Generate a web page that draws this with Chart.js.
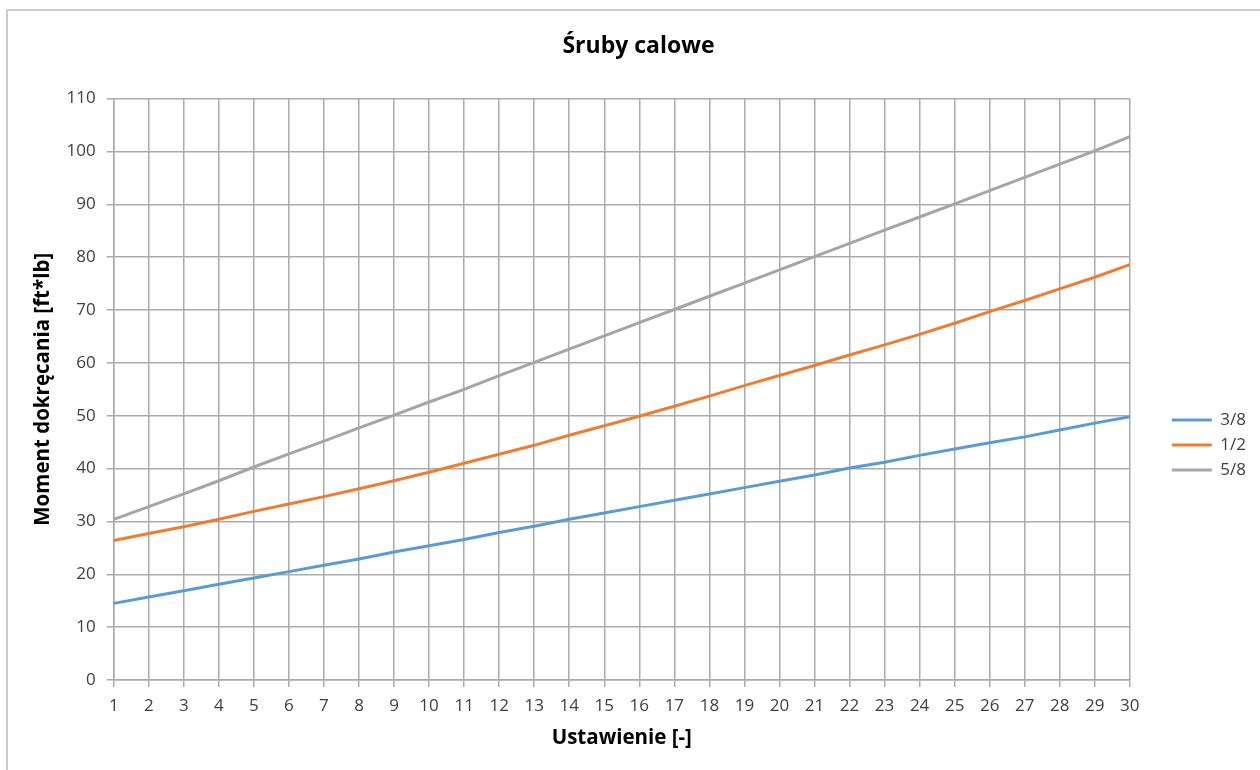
<!DOCTYPE html>
<html>
<head>
<meta charset="utf-8">
<script src="https://cdn.jsdelivr.net/npm/chart.js@4/dist/chart.umd.min.js"></script>
<style>
  html, body { margin: 0; padding: 0; background: #ffffff; overflow: hidden; }
  #frame { position: absolute; left: 6px; top: 9px; width: 1300px; height: 800px; border: 2px solid #cccccc; box-sizing: border-box; }
  #wrap { position: absolute; left: 0; top: 0; width: 1260px; height: 770px; }
</style>
</head>
<body>
<div id="frame"></div>
<div id="wrap"><canvas id="chart" width="1260" height="770"></canvas></div>
<script>
// Settings 1..30 on the wrench
const settings = Array.from({length: 30}, (_, i) => String(i + 1));

// Tightening torque [ft*lb] per bolt size
const torque38 = [14.5, 15.7, 16.9, 18.1, 19.3, 20.5, 21.7, 22.9, 24.2, 25.4,
                  26.6, 27.9, 29.1, 30.4, 31.6, 32.8, 34.0, 35.2, 36.4, 37.6,
                  38.8, 40.1, 41.2, 42.5, 43.7, 44.9, 46.0, 47.3, 48.6, 49.8];
const torque12 = [26.4, 27.7, 29.0, 30.4, 31.9, 33.3, 34.7, 36.2, 37.7, 39.3,
                  41.0, 42.7, 44.4, 46.3, 48.1, 49.9, 51.8, 53.7, 55.7, 57.6,
                  59.5, 61.5, 63.4, 65.4, 67.5, 69.7, 71.8, 74.0, 76.2, 78.6];
const torque58 = [30.4, 32.8, 35.2, 37.7, 40.3, 42.8, 45.2, 47.7, 50.1, 52.6,
                  55.0, 57.6, 60.1, 62.6, 65.1, 67.6, 70.1, 72.6, 75.1, 77.6,
                  80.1, 82.6, 85.1, 87.6, 90.1, 92.6, 95.1, 97.6, 100.1, 102.8];

const seriesNames = ['3/8', '1/2', '5/8'];
const yMin = 0, yMax = 110, yStep = 10;

const FONT = "'Open Sans', 'Noto Sans', sans-serif";
const gridColor = '#ababab';
const tickColor = '#404040';

// Moves the legend block down a little so it sits below the middle of the plot
const legendOffset = {
  id: 'legendOffset',
  afterLayout(chart) {
    const lg = chart.legend;
    if (lg) { lg.top += 60; lg.bottom += 60; }
  }
};

new Chart(document.getElementById('chart'), {
  type: 'line',
  data: {
    labels: settings,
    datasets: [
      { label: seriesNames[0], data: torque38, borderColor: '#5b9bd5', backgroundColor: '#5b9bd5', borderWidth: 3 },
      { label: seriesNames[1], data: torque12, borderColor: '#ed7d31', backgroundColor: '#ed7d31', borderWidth: 3 },
      { label: seriesNames[2], data: torque58, borderColor: '#a5a5a5', backgroundColor: '#a5a5a5', borderWidth: 3 }
    ]
  },
  plugins: [legendOffset],
  options: {
    responsive: false,
    animation: false,
    devicePixelRatio: 1,
    elements: {
      line: { tension: 0 },
      point: { radius: 0 }
    },
    layout: { padding: { left: 21, right: 4, top: 20, bottom: 20 } },
    plugins: {
      tooltip: { enabled: false },
      title: {
        display: true,
        text: 'Śruby calowe',
        color: '#000000',
        font: { family: FONT, size: 23, weight: 'bold' },
        padding: { top: 13, bottom: 38 }
      },
      legend: {
        position: 'right',
        align: 'center',
        labels: {
          color: tickColor,
          font: { family: FONT, size: 17 },
          usePointStyle: true,
          pointStyle: 'line',
          pointStyleWidth: 40,
          boxHeight: 17,
          padding: 8
        }
      }
    },
    scales: {
      x: {
        type: 'category',
        offset: false,
        grid: { color: gridColor, lineWidth: 1.5, tickLength: 7, offset: false },
        border: { color: gridColor, width: 1.5 },
        ticks: { color: tickColor, font: { family: FONT, size: 17 }, padding: 9, maxRotation: 0, autoSkip: false },
        title: {
          display: true,
          text: 'Ustawienie [-]',
          color: '#000000',
          font: { family: FONT, size: 20.5, weight: 'bold' },
          padding: { top: 0, bottom: 0 }
        }
      },
      y: {
        min: yMin,
        max: yMax,
        grid: { color: gridColor, lineWidth: 1.5, tickLength: 7 },
        border: { color: gridColor, width: 1.5 },
        ticks: { stepSize: yStep, color: tickColor, font: { family: FONT, size: 17 }, padding: 11 },
        title: {
          display: true,
          text: 'Moment dokręcania [ft*lb]',
          color: '#000000',
          font: { family: FONT, size: 20.5, weight: 'bold' },
          padding: { top: 10, bottom: 0 }
        }
      },
      // empty strip between the plot and the legend
      gap: {
        position: 'right',
        display: true,
        min: 0,
        max: 1,
        grid: { display: false, drawTicks: false },
        border: { display: false },
        ticks: { display: false },
        afterFit: (scale) => { scale.width = 34; }
      }
    }
  }
});
</script>
</body>
</html>
